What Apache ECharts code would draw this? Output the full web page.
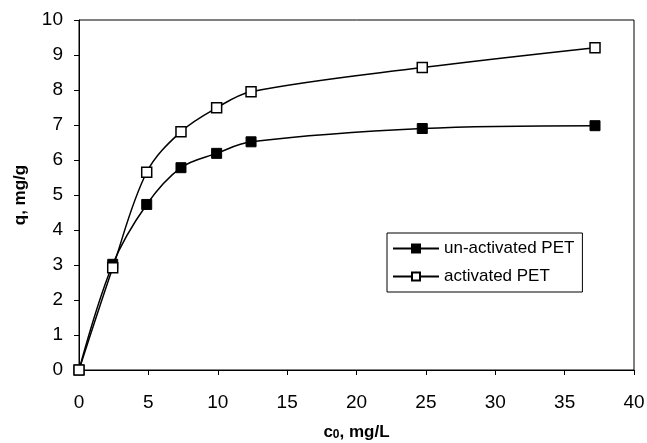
<!DOCTYPE html>
<html>
<head>
<meta charset="utf-8">
<script src="https://cdn.jsdelivr.net/npm/echarts@6/dist/echarts.min.js"></script>
<style>
  html, body { margin: 0; padding: 0; background: #fff; }
  #main { width: 647px; height: 443px; }
</style>
</head>
<body>
<div id="main"></div>
<script>
// concentration c0 (mg/L)
var c0 = [0, 2.43, 4.88, 7.35, 9.92, 12.4, 24.74, 37.19];
var unActivated = [0, 3.02, 4.73, 5.78, 6.19, 6.52, 6.90, 6.98];
var activated = [0, 2.92, 5.65, 6.81, 7.49, 7.95, 8.64, 9.21];

var font = 'Liberation Sans, Arial, sans-serif';

function pairs(xs, ys) {
  return xs.map(function (x, i) { return [x, ys[i]]; });
}

var chart = echarts.init(document.getElementById('main'));

var option = {
  backgroundColor: '#fff',
  animation: false,
  textStyle: { fontFamily: font, color: '#000' },
  grid: {
    left: 79, right: 13, top: 20, bottom: 73,
    outerBoundsMode: 'none',
    show: true, borderColor: '#000', borderWidth: 1
  },
  legend: {
    left: 387, top: 233,
    orient: 'vertical',
    borderColor: '#000', borderWidth: 1,
    padding: [7, 8, 7, 5],
    itemWidth: 46, itemHeight: 10, itemGap: 11,
    textStyle: { fontFamily: font, fontSize: 17, color: '#000' },
    data: ['un-activated PET', 'activated PET']
  },
  xAxis: {
    type: 'value', min: 0, max: 40, interval: 5,
    name: '{b|c}{s|0}{b|, mg/L}',
    nameLocation: 'middle', nameGap: 53,
    nameTextStyle: {
      rich: {
        b: { fontFamily: font, fontSize: 17, fontWeight: 'bold', color: '#000' },
        s: { fontFamily: font, fontSize: 12, fontWeight: 'bold', color: '#000', verticalAlign: 'bottom', padding: [6, 0, 0, 0] }
      }
    },
    axisLine: { lineStyle: { color: '#000', width: 1 } },
    axisTick: { inside: false, length: 5, lineStyle: { color: '#000' } },
    axisLabel: { margin: 23, fontSize: 19, color: '#000', fontFamily: font },
    splitLine: { show: false }
  },
  yAxis: {
    type: 'value', min: 0, max: 10, interval: 1,
    name: 'q, mg/g',
    nameLocation: 'middle', nameGap: 50,
    nameTextStyle: { fontFamily: font, fontSize: 17, fontWeight: 'bold', color: '#000' },
    axisLine: { lineStyle: { color: '#000', width: 1 } },
    axisTick: { inside: false, length: 5, lineStyle: { color: '#000' } },
    axisLabel: { margin: 16, fontSize: 19, color: '#000', fontFamily: font },
    splitLine: { show: false }
  },
  series: [
    {
      name: 'un-activated PET',
      type: 'line',
      smooth: 0.35,
      data: pairs(c0, unActivated),
      symbol: 'rect', symbolSize: 10,
      lineStyle: { color: '#000', width: 1.5 },
      itemStyle: { color: '#000', borderColor: '#000', borderWidth: 1 }
    },
    {
      name: 'activated PET',
      type: 'line',
      smooth: 0.35,
      data: pairs(c0, activated),
      symbol: 'rect', symbolSize: 10,
      lineStyle: { color: '#000', width: 1.5 },
      itemStyle: { color: '#fff', borderColor: '#000', borderWidth: 1.5 }
    }
  ]
};

chart.setOption(option);
</script>
</body>
</html>
